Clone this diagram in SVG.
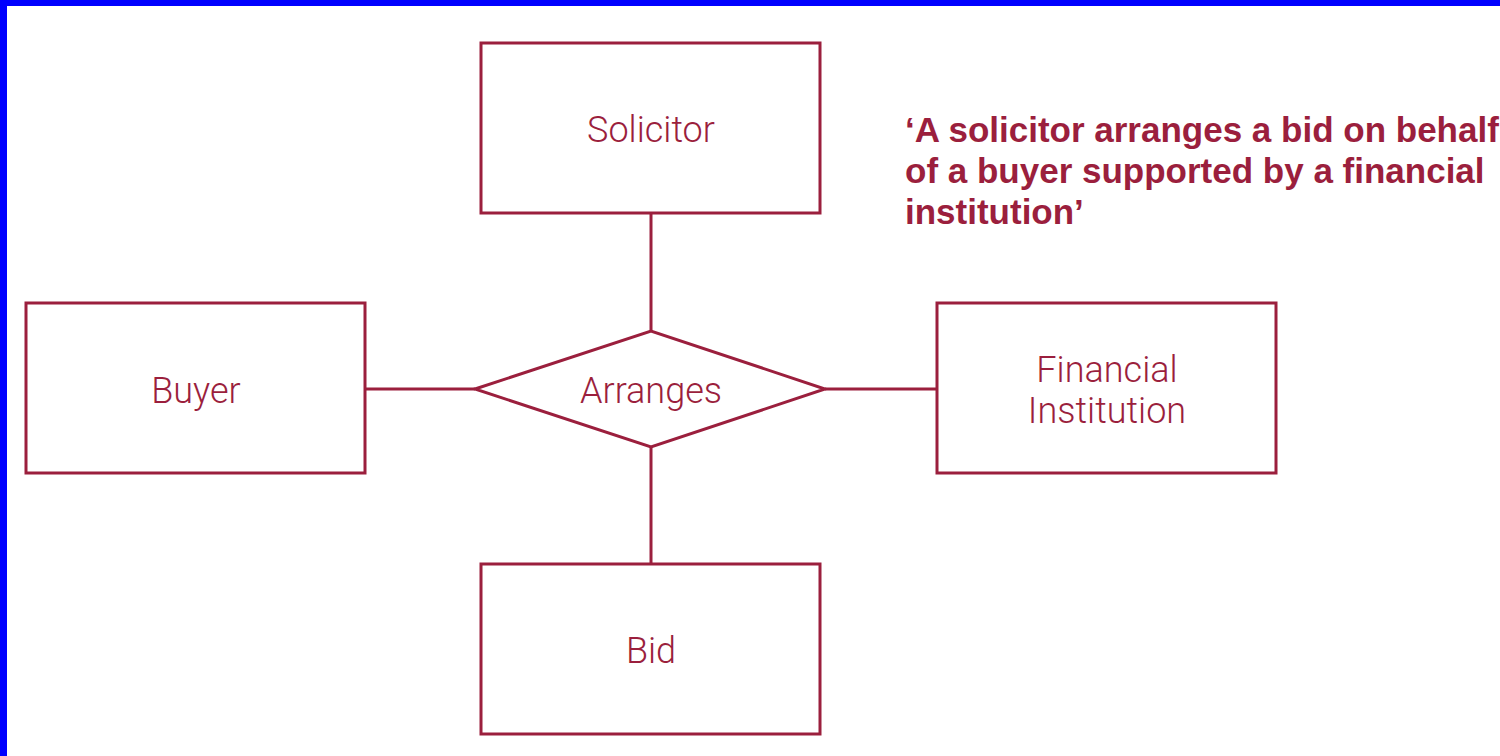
<svg xmlns="http://www.w3.org/2000/svg" width="1500" height="756" viewBox="0 0 1500 756">
  <style>
    .frame { fill: #0000ff; }
    .shape { fill: #ffffff; stroke: #9b1f3d; stroke-width: 3; }
    .link { fill: none; stroke: #9b1f3d; stroke-width: 3; }
    .label { font-family: Roboto, "Liberation Sans", sans-serif; font-weight: 300; font-size: 36px; fill: #9b1f3d; text-anchor: middle; }
    .note { font-family: "Liberation Sans", Arial, sans-serif; font-weight: bold; font-size: 35px; fill: #9b1f3d; }
  </style>

  <!-- page background with blue top and left edges -->
  <rect x="0" y="0" width="1500" height="756" fill="#ffffff"/>
  <rect class="frame" x="0" y="0" width="1500" height="6"/>
  <rect class="frame" x="0" y="0" width="7" height="756"/>

  <!-- relationship lines -->
  <g id="connectors">
    <line class="link" x1="651" y1="213" x2="651" y2="331"/>
    <line class="link" x1="651" y1="447" x2="651" y2="564"/>
    <line class="link" x1="365" y1="389" x2="475" y2="389"/>
    <line class="link" x1="825" y1="389" x2="937" y2="389"/>
  </g>

  <g id="solicitor">
    <rect class="shape" x="481" y="43" width="339" height="170"/>
    <text class="label" x="651" y="142">Solicitor</text>
  </g>

  <g id="buyer">
    <rect class="shape" x="26" y="303" width="339" height="170"/>
    <text class="label" x="196" y="403">Buyer</text>
  </g>

  <g id="arranges">
    <polygon class="shape" points="475,389 651,331 825,389 651,447"/>
    <text class="label" x="651" y="403">Arranges</text>
  </g>

  <g id="financial-institution">
    <rect class="shape" x="937" y="303" width="339" height="170"/>
    <text class="label" x="1107" y="382">Financial</text>
    <text class="label" x="1107" y="423">Institution</text>
  </g>

  <g id="bid">
    <rect class="shape" x="481" y="564" width="339" height="170"/>
    <text class="label" x="651" y="663">Bid</text>
  </g>

  <g id="statement">
    <text class="note" x="905" y="142">‘A solicitor arranges a bid on behalf</text>
    <text class="note" x="905" y="183">of a buyer supported by a financial</text>
    <text class="note" x="905" y="224">institution’</text>
  </g>
</svg>
